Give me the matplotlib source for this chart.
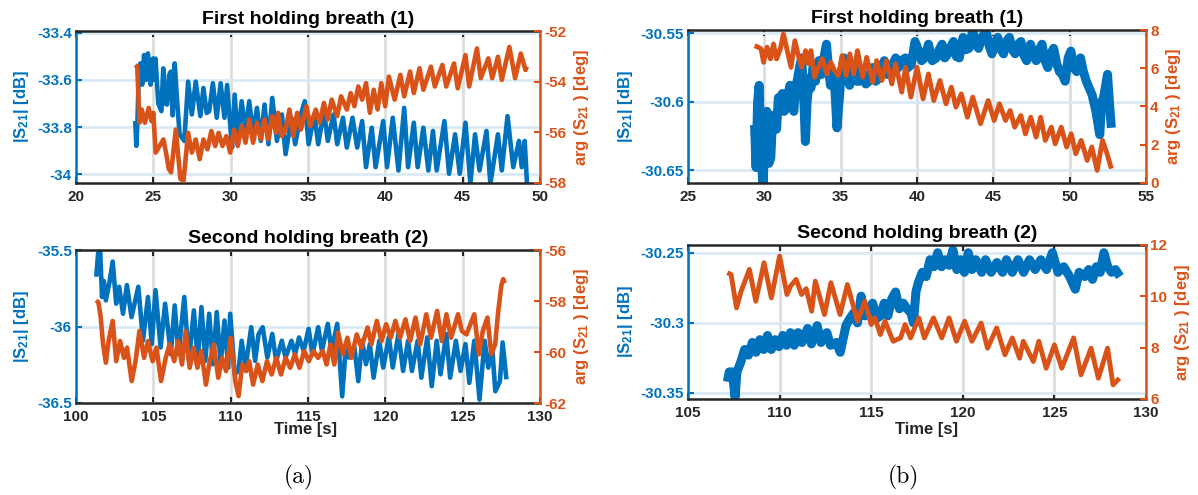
import matplotlib
matplotlib.use("Agg")
import matplotlib.pyplot as plt

plt.rcParams['font.family'] = ['Liberation Sans', 'DejaVu Sans']
plt.rcParams['font.weight'] = 'bold'
plt.rcParams['mathtext.fontset'] = 'custom'
plt.rcParams['mathtext.rm'] = 'Liberation Sans:bold'
plt.rcParams['mathtext.it'] = 'Liberation Sans:bold'
plt.rcParams['mathtext.bf'] = 'Liberation Sans:bold'
plt.rcParams['mathtext.default'] = 'rm'

BLUE = '#0072BD'
ORANGE = '#D95319'
DARK = '#262626'

# ---------------- (a) first holding breath ----------------
a1_mag_t = [23.83, 23.90, 23.96, 24.05, 24.16, 24.28, 24.40, 24.52, 24.65, 24.75, 24.82, 24.97, 25.06, 25.14,
            25.32, 25.52, 25.64, 25.76, 25.89, 26.01, 26.13, 26.25, 26.38, 26.55, 26.70, 27.0, 27.25, 27.49,
            27.74, 28.04, 28.24, 28.45, 28.61, 28.85, 29.10, 29.35, 29.60, 29.77, 29.92, 30.09, 30.26, 30.46,
            30.71, 30.96, 31.20, 31.45, 31.70, 31.95, 32.19, 32.44, 32.69, 32.99, 33.31, 33.55, 33.93, 34.17,
            34.54, 34.79, 35.04, 35.41, 35.66, 36.03, 36.28, 36.65, 36.89, 37.26, 37.51, 37.88, 38.18, 38.50,
            38.75, 39.12, 39.37, 39.86, 40.11, 40.48, 40.85, 41.22, 41.47, 41.84, 42.09, 42.46, 42.78, 43.08,
            43.32, 43.82, 44.12, 44.51, 44.81, 45.18, 45.50, 45.80, 46.09, 46.54, 46.79, 47.28, 47.53, 47.90,
            48.27, 48.64, 48.82, 49.01, 49.16]
a1_mag = [-33.774, -33.879, -33.80, -33.60, -33.53, -33.62, -33.495, -33.60, -33.488, -33.58, -33.62, -33.509,
          -33.60, -33.51, -33.70, -33.732, -33.551, -33.70, -33.704, -33.58, -33.565, -33.75, -33.530, -33.70,
          -33.83, -33.858, -33.607, -33.746, -33.607, -33.753, -33.634, -33.74, -33.732, -33.614, -33.760,
          -33.614, -33.760, -33.621, -33.75, -33.886, -33.662, -33.858, -33.690, -33.816, -33.690, -33.830,
          -33.718, -33.858, -33.704, -33.872, -33.676, -33.858, -33.746, -33.914, -33.760, -33.872, -33.746,
          -33.690, -33.872, -33.746, -33.872, -33.732, -33.858, -33.746, -33.872, -33.760, -33.886, -33.760,
          -33.886, -33.774, -33.969, -33.802, -33.969, -33.774, -33.969, -33.760, -33.983, -33.718, -33.969,
          -33.781, -33.969, -33.802, -33.983, -33.816, -33.983, -33.774, -33.997, -33.830, -33.997, -33.781,
          -34.039, -33.830, -33.983, -33.816, -34.039, -33.830, -33.983, -33.753, -33.969, -33.858, -33.969,
          -33.858, -34.039]

a1_ph_t = [23.83, 23.96, 24.10, 24.25, 24.45, 24.70, 24.88, 25.0, 25.15, 25.40, 25.65, 25.82, 26.0, 26.15, 26.45,
           26.75, 26.95, 27.25, 27.49, 27.74, 28.0, 28.24, 28.50, 28.75, 29.0, 29.22, 29.47, 29.72, 29.97, 30.22,
           30.46, 30.71, 30.96, 31.20, 31.45, 31.70, 31.95, 32.19, 32.44, 32.69, 32.94, 33.06, 33.31, 33.55, 33.80,
           34.05, 34.30, 34.54, 34.90, 35.15, 35.50, 35.75, 36.03, 36.28, 36.53, 36.89, 37.14, 37.51, 37.76, 38.0,
           38.25, 38.50, 38.75, 39.0, 39.25, 39.50, 39.74, 39.99, 40.23, 40.60, 40.97, 41.22, 41.60, 41.84, 42.21,
           42.46, 42.95, 43.20, 43.69, 43.94, 44.44, 44.68, 45.18, 45.42, 45.92, 46.17, 46.66, 46.91, 47.28, 47.53,
           48.02, 48.39, 48.76, 49.06, 49.15]
a1_ph = [-53.34, -53.41, -55.62, -55.10, -55.62, -55.04, -55.56, -55.23, -56.80, -56.54, -56.28, -56.80, -57.45,
         -57.58, -55.89, -57.84, -57.91, -56.02, -56.80, -56.28, -57.06, -56.28, -56.67, -55.95, -56.54, -56.02,
         -56.54, -56.15, -56.80, -55.89, -56.54, -55.75, -56.41, -55.49, -56.41, -55.62, -56.28, -55.49, -56.28,
         -55.36, -56.02, -55.23, -56.15, -55.89, -55.10, -56.15, -55.23, -55.89, -54.97, -55.75, -55.10, -55.62,
         -54.84, -55.49, -54.71, -55.36, -54.58, -55.10, -54.45, -54.97, -54.19, -54.71, -54.06, -55.23, -54.32,
         -55.10, -54.06, -54.97, -53.80, -54.71, -53.73, -54.58, -53.60, -54.45, -53.47, -54.32, -53.41, -54.19,
         -53.34, -54.19, -53.28, -54.26, -52.95, -54.19, -52.69, -53.86, -53.08, -53.86, -53.02, -53.93, -52.63,
         -53.86, -52.89, -53.54, -53.41]

# ---------------- (a) second holding breath ----------------
a2_mag_t = [101.31, 101.43, 101.56, 101.68, 101.80, 101.93, 102.18, 102.37, 102.60, 102.79, 103.04, 103.29, 103.59,
            104.03, 104.33, 104.65, 104.90, 105.14, 105.47, 105.76, 106.13, 106.38, 106.63, 107.0, 107.30, 107.62,
            107.87, 108.11, 108.36, 108.61, 108.85, 109.10, 109.35, 109.60, 109.84, 109.97, 110.26, 110.51, 110.71,
            110.96, 111.33, 111.58, 111.80, 112.07, 112.37, 112.69, 112.94, 113.31, 113.55, 113.93, 114.17, 114.42,
            114.72, 115.04, 115.29, 115.66, 115.90, 116.28, 116.52, 116.89, 117.21, 117.44, 117.64, 118.0, 118.25,
            118.50, 118.75, 119.0, 119.24, 119.61, 119.86, 120.23, 120.48, 120.85, 121.15, 121.47, 121.72, 122.09,
            122.33, 122.71, 123.0, 123.32, 123.57, 123.94, 124.19, 124.56, 124.86, 125.18, 125.43, 125.75, 126.09,
            126.42, 126.66, 126.91, 127.11, 127.41, 127.58, 127.83]
a2_mag = [-35.672, -35.52, -35.49, -35.805, -35.70, -35.827, -35.70, -35.573, -35.849, -35.738, -35.915, -35.727,
          -35.937, -35.738, -36.092, -35.805, -36.114, -35.760, -36.136, -35.849, -36.180, -35.860, -36.180,
          -35.805, -36.224, -35.893, -36.224, -35.871, -36.224, -35.915, -36.246, -35.904, -36.246, -35.959,
          -36.268, -35.915, -36.312, -36.290, -36.092, -36.268, -36.003, -36.224, -36.05, -36.003, -36.202,
          -36.047, -36.224, -36.092, -36.202, -36.092, -36.180, -36.070, -36.158, -36.014, -36.180, -36.003,
          -36.158, -35.981, -36.158, -35.981, -36.456, -36.136, -36.202, -36.136, -36.357, -36.092, -36.246,
          -36.114, -36.334, -36.092, -36.268, -36.070, -36.268, -36.047, -36.290, -36.092, -36.290, -36.092,
          -36.334, -36.070, -36.390, -36.092, -36.312, -36.047, -36.334, -36.092, -36.290, -36.114, -36.368,
          -36.092, -36.478, -36.092, -36.268, -36.136, -36.423, -36.357, -36.103, -36.345]

a2_ph_t = [101.31, 101.45, 101.60, 101.75, 101.93, 102.10, 102.37, 102.60, 102.85, 103.10, 103.30, 103.60, 103.85,
           104.10, 104.40, 104.65, 104.95, 105.20, 105.50, 105.80, 106.05, 106.35, 106.60, 106.85, 107.10, 107.35,
           107.60, 107.85, 108.10, 108.40, 108.65, 108.90, 109.20, 109.45, 109.70, 110.0, 110.30, 110.51, 110.75,
           111.0, 111.20, 111.45, 111.75, 112.05, 112.35, 112.65, 112.95, 113.25, 113.55, 113.85, 114.15, 114.45,
           114.75, 115.05, 115.35, 115.65, 115.95, 116.20, 116.45, 116.70, 116.95, 117.25, 117.55, 117.80, 118.15,
           118.45, 118.85, 119.10, 119.45, 119.75, 120.05, 120.35, 120.65, 120.95, 121.30, 121.60, 121.95, 122.25,
           122.65, 122.95, 123.35, 123.65, 123.95, 124.25, 124.70, 124.95, 125.25, 125.50, 125.75, 126.05, 126.30,
           126.60, 126.85, 127.10, 127.30, 127.50, 127.62, 127.72]
a2_ph = [-57.97, -58.06, -58.65, -59.70, -60.42, -59.60, -58.78, -60.36, -59.57, -60.23, -59.83, -61.14, -60.36,
         -59.18, -60.23, -59.57, -60.36, -59.83, -61.14, -60.23, -59.70, -60.36, -59.57, -60.49, -59.18, -60.62,
         -59.83, -60.62, -59.96, -61.28, -60.36, -59.70, -61.01, -60.23, -60.75, -59.44, -61.14, -61.73, -60.49,
         -60.75, -60.36, -61.28, -60.49, -61.14, -60.36, -60.88, -60.23, -60.88, -60.23, -60.62, -60.09, -60.62,
         -59.96, -60.36, -59.96, -60.23, -59.96, -60.49, -59.70, -60.49, -59.24, -60.09, -59.44, -60.23, -59.31,
         -59.83, -59.04, -59.70, -58.78, -59.57, -58.91, -59.44, -58.78, -59.44, -58.72, -59.57, -58.65, -59.70,
         -58.52, -59.44, -58.39, -59.57, -58.52, -59.44, -58.52, -59.18, -59.31, -58.91, -58.52, -60.09, -59.18,
         -58.65, -60.09, -59.70, -58.40, -57.40, -57.14, -57.30]

# ---------------- (b) first holding breath ----------------
b1_mag_t = [29.36, 29.46, 29.56, 29.66, 29.79, 29.92, 30.05, 30.17, 30.30, 30.42, 30.55, 30.67, 30.80, 30.92, 31.05,
            31.18, 31.30, 31.43, 31.55, 31.68, 31.80, 31.93, 32.05, 32.18, 32.30, 32.44, 32.56, 32.69, 32.80, 32.94,
            33.05, 33.19, 33.35, 33.57, 33.75, 33.95, 34.07, 34.20, 34.33, 34.45, 34.58, 34.76, 35.01, 35.21, 35.40,
            35.59, 35.84, 36.05, 36.22, 36.47, 36.65, 36.85, 37.10, 37.30, 37.48, 37.66, 37.86, 38.05, 38.23, 38.42,
            38.61, 38.80, 38.99, 39.24, 39.42, 39.62, 39.87, 40.12, 40.30, 40.50, 40.75, 41.00, 41.26, 41.45, 41.64,
            41.82, 42.02, 42.20, 42.39, 42.58, 42.77, 43.02, 43.20, 43.40, 43.65, 43.85, 44.03, 44.30, 44.54, 44.75,
            44.91, 45.10, 45.29, 45.50, 45.67, 45.85, 46.05, 46.25, 46.43, 46.62, 46.81, 47.00, 47.18, 47.44, 47.62,
            47.81, 48.00, 48.19, 48.38, 48.57, 48.76, 48.95, 49.15, 49.33, 49.52, 49.70, 49.90, 50.08, 50.27, 50.46,
            50.71, 50.90, 51.09, 51.28, 51.47, 51.72, 51.97, 52.10, 52.22, 52.48, 52.60, 52.73]
b1_mag = [-30.617, -30.648, -30.600, -30.588, -30.641, -30.661, -30.620, -30.607, -30.645, -30.641, -30.610, -30.610,
          -30.620, -30.597, -30.605, -30.594, -30.607, -30.605, -30.595, -30.588, -30.600, -30.607, -30.590, -30.583,
          -30.575, -30.568, -30.590, -30.629, -30.600, -30.583, -30.590, -30.575, -30.585, -30.570, -30.580, -30.565,
          -30.558, -30.575, -30.588, -30.580, -30.583, -30.619, -30.583, -30.568, -30.580, -30.588, -30.573, -30.585,
          -30.585, -30.579, -30.587, -30.585, -30.575, -30.585, -30.583, -30.575, -30.570, -30.580, -30.580, -30.572,
          -30.568, -30.575, -30.570, -30.568, -30.575, -30.573, -30.556, -30.563, -30.570, -30.568, -30.558, -30.570,
          -30.568, -30.562, -30.558, -30.568, -30.565, -30.560, -30.556, -30.567, -30.568, -30.553, -30.562, -30.561,
          -30.548, -30.558, -30.561, -30.552, -30.549, -30.560, -30.565, -30.557, -30.553, -30.562, -30.565, -30.556,
          -30.553, -30.562, -30.565, -30.558, -30.556, -30.566, -30.570, -30.558, -30.566, -30.570, -30.562, -30.558,
          -30.570, -30.575, -30.565, -30.561, -30.572, -30.578, -30.580, -30.585, -30.568, -30.563, -30.575, -30.578,
          -30.568, -30.578, -30.585, -30.590, -30.595, -30.607, -30.624, -30.600, -30.597, -30.580, -30.600, -30.619]

b1_ph_t = [29.36, 29.60, 29.79, 29.95, 30.17, 30.40, 30.60, 30.80, 31.05, 31.25, 31.55, 31.75, 32.00, 32.20, 32.45,
           32.70, 32.90, 33.05, 33.30, 33.55, 33.80, 34.10, 34.35, 34.60, 34.85, 35.10, 35.35, 35.60, 35.85, 36.10,
           36.45, 36.70, 37.10, 37.35, 37.70, 38.00, 38.35, 38.60, 39.00, 39.25, 39.60, 40.00, 40.40, 40.75, 41.10,
           41.50, 41.90, 42.25, 42.55, 42.90, 43.30, 43.65, 44.16, 44.66, 45.05, 45.40, 45.80, 46.10, 46.40, 46.80,
           47.10, 47.45, 47.80, 48.10, 48.40, 48.80, 49.05, 49.45, 49.80, 50.10, 50.40, 50.75, 51.15, 51.45, 51.80,
           52.15, 52.45, 52.73]
b1_ph = [7.18, 7.10, 7.01, 6.31, 7.10, 6.49, 7.27, 6.49, 7.01, 7.79, 6.75, 6.05, 7.44, 6.75, 6.05, 6.92, 6.23, 6.92,
         5.53, 6.05, 6.49, 5.70, 6.31, 5.88, 5.62, 6.66, 5.62, 6.75, 5.70, 6.92, 5.53, 6.57, 5.27, 6.40, 5.36, 6.40,
         5.18, 6.23, 4.75, 6.05, 4.49, 6.05, 4.40, 5.70, 4.31, 5.36, 4.14, 5.01, 3.97, 4.66, 3.44, 4.49, 3.10, 4.31,
         3.27, 4.14, 3.27, 3.79, 2.92, 3.53, 2.57, 3.44, 2.40, 3.44, 2.23, 2.92, 2.05, 2.92, 1.88, 2.57, 1.53, 2.23,
         1.18, 1.88, 0.66, 2.23, 1.53, 0.75]

# ---------------- (b) second holding breath ----------------
b2_mag_t = [107.15, 107.25, 107.42, 107.57, 107.67, 107.88, 108.09, 108.30, 108.51, 108.71, 108.92, 109.13, 109.34,
            109.55, 109.76, 109.97, 110.18, 110.38, 110.59, 110.80, 111.01, 111.22, 111.53, 111.74, 112.05, 112.26,
            112.58, 112.78, 113.10, 113.31, 113.62, 113.83, 114.04, 114.25, 114.45, 114.66, 114.87, 115.08, 115.29,
            115.50, 115.71, 115.91, 116.12, 116.33, 116.54, 116.75, 116.96, 117.17, 117.31, 117.44, 117.58, 117.79,
            118.0, 118.21, 118.42, 118.63, 118.84, 119.04, 119.25, 119.46, 119.67, 119.88, 120.09, 120.30, 120.50,
            120.71, 121.03, 121.24, 121.55, 121.86, 122.17, 122.38, 122.70, 123.01, 123.32, 123.64, 123.95, 124.26,
            124.57, 124.89, 125.20, 125.51, 125.83, 126.14, 126.35, 126.66, 126.87, 127.08, 127.29, 127.50, 127.70,
            127.91, 128.12, 128.33, 128.58]
b2_mag = [-30.342, -30.335, -30.335, -30.353, -30.335, -30.328, -30.319, -30.323, -30.314, -30.321, -30.312, -30.319,
          -30.309, -30.319, -30.312, -30.317, -30.309, -30.316, -30.307, -30.316, -30.307, -30.314, -30.304, -30.315,
          -30.302, -30.314, -30.307, -30.316, -30.314, -30.321, -30.302, -30.297, -30.293, -30.300, -30.281, -30.295,
          -30.290, -30.286, -30.297, -30.295, -30.286, -30.295, -30.283, -30.278, -30.290, -30.286, -30.290, -30.293,
          -30.300, -30.278, -30.271, -30.264, -30.267, -30.255, -30.260, -30.250, -30.260, -30.255, -30.259, -30.248,
          -30.262, -30.255, -30.264, -30.250, -30.262, -30.255, -30.264, -30.255, -30.264, -30.257, -30.264, -30.255,
          -30.264, -30.255, -30.264, -30.255, -30.262, -30.255, -30.262, -30.250, -30.264, -30.260, -30.267, -30.276,
          -30.264, -30.267, -30.262, -30.269, -30.260, -30.264, -30.250, -30.260, -30.264, -30.262, -30.267]

b2_ph_t = [107.15, 107.35, 107.65, 107.90, 108.35, 108.70, 109.15, 109.55, 110.0, 110.40, 110.60, 110.90, 111.20,
           111.45, 111.75, 111.95, 112.45, 112.80, 113.30, 113.70, 114.25, 114.65, 115.00, 115.20, 115.50, 115.75,
           116.20, 116.60, 116.85, 117.15, 117.60, 117.90, 118.40, 118.85, 119.25, 119.65, 120.10, 120.50, 121.00,
           121.35, 121.85, 122.30, 122.70, 123.10, 123.30, 123.85, 124.15, 124.55, 125.00, 125.40, 126.05, 126.45,
           127.00, 127.40, 127.90, 128.20, 128.55]
b2_ph = [10.92, 10.85, 9.55, 10.20, 11.05, 9.81, 11.31, 9.94, 11.57, 10.07, 10.40, 10.66, 10.07, 10.30, 9.42, 10.59,
         9.29, 10.53, 9.29, 10.46, 9.03, 9.81, 8.90, 9.16, 8.51, 9.03, 8.25, 8.38, 8.90, 8.38, 9.16, 8.38, 9.16, 8.38,
         9.16, 8.25, 9.03, 8.25, 8.96, 7.98, 8.77, 7.72, 8.38, 7.59, 8.25, 7.46, 8.25, 7.20, 8.11, 7.20, 8.38, 6.94,
         7.98, 6.81, 7.98, 6.55, 6.81]

# axis limits and ticks
a1_xlim, a1_ylim_l, a1_ylim_r = (20, 50), (-34.036, -33.393), (-58, -52)
a1_yt_l, a1_yt_r = [-34, -33.8, -33.6, -33.4], [-58, -56, -54, -52]
a2_xlim, a2_ylim_l, a2_ylim_r = (100, 130), (-36.5, -35.497), (-62, -56)
a2_yt_l, a2_yt_r = [-36.5, -36, -35.5], [-62, -60, -58, -56]
b1_xlim, b1_ylim_l, b1_ylim_r = (25, 55), (-30.6593, -30.5476), (0, 8)
b1_yt_l, b1_yt_r = [-30.65, -30.6, -30.55], [0, 2, 4, 6, 8]
b2_xlim, b2_ylim_l, b2_ylim_r = (105, 130), (-30.3543, -30.2445), (6, 12)
b2_yt_l, b2_yt_r = [-30.35, -30.3, -30.25], [6, 8, 10, 12]

titles = ['First holding breath (1)', 'Second holding breath (2)']

W, H = 1198, 495
fig = plt.figure(figsize=(W / 100, H / 100), dpi=100)


def px_axes(x0, y0, x1, y1):
    return fig.add_axes([x0 / W, 1 - y1 / H, (x1 - x0) / W, (y1 - y0) / H])


def fmt(v):
    return ('%g' % v)


def panel(rect, t_m, m, t_p, p, xlim, yl, yr, ytl, ytr, title, lw_m, lw_p, xlabel=None, xlab_pos=None):
    ax = px_axes(*rect)
    ax.plot(t_m, m, color=BLUE, lw=lw_m, solid_joinstyle='round', solid_capstyle='butt')
    ax.set_xlim(*xlim)
    ax.set_ylim(*yl)
    xt = list(range(int(xlim[0]), int(xlim[1]) + 1, 5))
    ax.set_xticks(xt)
    ax.set_xticklabels([str(v) for v in xt])
    ax.set_yticks(ytl)
    ax.set_yticklabels([fmt(v) for v in ytl])
    ax.grid(axis='x', color='#dedede', lw=2)
    ax.grid(axis='y', color='#d9eaf5', lw=2)
    ax.set_axisbelow(True)
    ax.tick_params(axis='x', direction='in', length=4, width=1.5, top=True, colors=DARK,
                   labelsize=11, pad=5)
    ax.tick_params(axis='y', direction='in', length=4, width=1.5, colors=BLUE, labelsize=11, pad=3)
    for s in ('top', 'bottom'):
        ax.spines[s].set_color(DARK)
        ax.spines[s].set_linewidth(1.8)
    ax.spines['left'].set_color(BLUE)
    ax.spines['left'].set_linewidth(1.8)
    ax.spines['right'].set_visible(False)
    ax.set_ylabel('|S$_{21}$| [dB]', color=BLUE, fontsize=12, fontweight='bold')
    ax.set_title(title, fontsize=14, fontweight='bold', pad=5, color='black')

    ax2 = ax.twinx()
    ax2.plot(t_p, p, color=ORANGE, lw=lw_p, solid_joinstyle='round', solid_capstyle='butt')
    ax2.set_ylim(*yr)
    ax2.set_yticks(ytr)
    ax2.set_yticklabels([fmt(v) for v in ytr])
    ax2.tick_params(axis='y', direction='in', length=4, width=1.5, colors=ORANGE, labelsize=11, pad=3)
    for s in ('top', 'bottom', 'left'):
        ax2.spines[s].set_visible(False)
    ax2.spines['right'].set_color(ORANGE)
    ax2.spines['right'].set_linewidth(1.8)
    ax2.set_ylabel('arg (S$_{21}$ ) [deg]', color=ORANGE, fontsize=12, fontweight='bold')
    if xlabel:
        ax.set_xlabel(xlabel, fontsize=12, fontweight='bold', color=DARK)
        ax.xaxis.set_label_coords(*xlab_pos)
    return ax, ax2


panel((76, 31, 540, 183), a1_mag_t, a1_mag, a1_ph_t, a1_ph, a1_xlim, a1_ylim_l, a1_ylim_r,
      a1_yt_l, a1_yt_r, titles[0], 3.3, 3.3)
panel((76, 250, 540, 403), a2_mag_t, a2_mag, a2_ph_t, a2_ph, a2_xlim, a2_ylim_l, a2_ylim_r,
      a2_yt_l, a2_yt_r, titles[1], 3.3, 3.3, 'Time [s]', (0.494, -0.125))
panel((688, 30, 1146, 183), b1_mag_t, b1_mag, b1_ph_t, b1_ph, b1_xlim, b1_ylim_l, b1_ylim_r,
      b1_yt_l, b1_yt_r, titles[0], 6.5, 3.5)
panel((688, 245, 1146, 399), b2_mag_t, b2_mag, b2_ph_t, b2_ph, b2_xlim, b2_ylim_l, b2_ylim_r,
      b2_yt_l, b2_yt_r, titles[1], 6.5, 3.5, 'Time [s]', (0.52, -0.15))

fig.text(299 / W, 1 - 477 / H, '(a)', family='cmr10', fontsize=17, fontweight='normal',
         ha='center', va='center')
fig.text(903 / W, 1 - 477 / H, '(b)', family='cmr10', fontsize=17, fontweight='normal',
         ha='center', va='center')

fig.savefig('out.png', dpi=100)
